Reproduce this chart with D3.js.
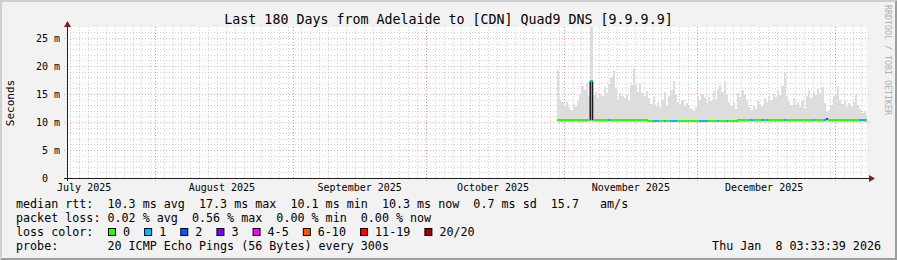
<!DOCTYPE html>
<html>
<head>
<meta charset="utf-8">
<script src="https://cdn.jsdelivr.net/npm/d3@7"></script>
<style>
  body { margin: 0; background: #f2f2f2; }
  text { font-family: "DejaVu Sans Mono", monospace; white-space: pre; }
</style>
</head>
<body>
<div id="chart"></div>
<script>
// ---- data ----
const title = "Last 180 Days from Adelaide to [CDN] Quad9 DNS [9.9.9.9]";
const rangeEnd = "2026-01-08T03:33:39";
const rangeDays = 180;
const dataStart = "2025-10-30T12:00:00";
const stepHours = 12;

const yTicks = [0, 5, 10, 15, 20, 25];
const yTickLabels = ["0  ", "5 m", "10 m", "15 m", "20 m", "25 m"];
const monthStarts = ["2025-07-01", "2025-08-01", "2025-09-01", "2025-10-01", "2025-11-01", "2025-12-01", "2026-01-01"];
const monthLabels = ["July 2025", "August 2025", "September 2025", "October 2025", "November 2025", "December 2025"];

// median rtt per 12h sample (ms)
const medianRtt = [
  10.3, 10.3, 10.3, 10.3, 10.3, 10.3, 10.3, 10.3, 10.3, 10.3,
  10.3, 10.3, 10.3, 10.3, 10.3, 17.3, 10.3, 10.3, 10.3, 10.3,
  10.3, 10.3, 10.3, 10.3, 10.3, 10.3, 10.3, 10.3, 10.3, 10.3,
  10.3, 10.3, 10.3, 10.3, 10.3, 10.3, 10.3, 10.3, 10.3, 10.3,
  10.3, 10.1, 10.1, 10.1, 10.1, 10.1, 10.1, 10.1, 10.1, 10.1,
  10.1, 10.1, 10.1, 10.1, 10.1, 10.1, 10.1, 10.1, 10.1, 10.1,
  10.1, 10.1, 10.1, 10.1, 10.1, 10.1, 10.1, 10.1, 10.1, 10.1,
  10.1, 10.1, 10.1, 10.1, 10.1, 10.1, 10.1, 10.1, 10.1, 10.1,
  10.1, 10.3, 10.3, 10.3, 10.3, 10.3, 10.3, 10.3, 10.3, 10.3,
  10.3, 10.3, 10.3, 10.3, 10.3, 10.3, 10.3, 10.3, 10.3, 10.3,
  10.3, 10.3, 10.3, 10.3, 10.3, 10.3, 10.3, 10.3, 10.3, 10.3,
  10.3, 10.3, 10.3, 10.3, 10.3, 10.3, 10.3, 10.3, 10.3, 10.3,
  10.4, 10.6, 10.3, 10.3, 10.3, 10.3, 10.3, 10.3, 10.3, 10.3,
  10.3, 10.3, 10.3, 10.3, 10.3, 10.3, 10.3, 10.3, 10.3, 10.3
];

// top of the smoke (slowest pings) per sample (ms)
const smokeTop = [
  19.3, 13.9, 13.5, 13.0, 13.6, 12.6, 12.2, 13.2, 12.8, 13.8,
  15.0, 16.4, 15.8, 16.9, 14.6, 27.0, 14.8, 15.4, 14.2, 15.0,
  14.6, 16.2, 15.2, 16.8, 18.0, 19.3, 16.0, 14.0, 15.2, 14.6,
  14.2, 14.8, 13.8, 16.6, 19.4, 16.8, 15.4, 17.0, 15.2, 14.4,
  15.6, 14.2, 13.2, 14.6, 12.8, 13.6, 12.6, 14.0, 15.4, 13.0,
  14.6, 15.8, 17.4, 15.0, 13.6, 13.2, 14.0, 12.8, 13.4, 13.0,
  12.4, 12.0, 12.6, 14.6, 14.0, 15.0, 14.2, 13.4, 14.4, 13.8,
  15.6, 14.0, 15.8, 16.6, 15.4, 17.4, 15.0, 13.6, 12.8, 13.4,
  12.4, 15.2, 14.4, 15.8, 14.8, 14.0, 12.6, 12.2, 13.0, 12.4,
  14.0, 13.2, 12.8, 14.2, 13.6, 14.6, 14.0, 15.0, 14.4, 15.6,
  14.8, 16.4, 18.8, 14.6, 13.8, 13.0, 14.2, 12.8, 13.6, 12.6,
  13.8, 12.4, 14.6, 15.8, 14.2, 15.4, 14.8, 16.0, 15.2, 16.2,
  13.4, 11.8, 12.2, 12.8, 14.6, 15.2, 16.4, 14.0, 13.2, 13.8,
  12.6, 13.4, 12.8, 13.6, 14.8, 13.0, 12.4, 11.6, 12.0, 11.2
];
const smokeBottom = 10.0;

// loss colour index per sample (0 = no loss)
const lossIdx = [
  0, 0, 0, 0, 0, 0, 0, 0, 0, 0,
  0, 0, 0, 0, 0, 1, 0, 0, 0, 0,
  0, 0, 0, 1, 0, 0, 0, 0, 0, 0,
  0, 0, 0, 0, 0, 0, 0, 0, 0, 0,
  0, 0, 0, 1, 1, 1, 0, 0, 1, 0,
  0, 1, 1, 1, 0, 0, 0, 0, 0, 0,
  0, 0, 0, 0, 1, 1, 1, 1, 0, 0,
  0, 0, 1, 0, 0, 0, 1, 0, 0, 0,
  0, 0, 0, 0, 0, 0, 0, 1, 0, 0,
  0, 0, 1, 0, 1, 0, 0, 0, 0, 0,
  0, 0, 1, 0, 0, 0, 0, 0, 0, 0,
  0, 0, 0, 0, 0, 1, 0, 0, 0, 0,
  1, 2, 0, 0, 0, 0, 0, 0, 0, 0,
  0, 0, 0, 0, 0, 0, 1, 1, 1, 0
];

const lossLabels = ["0", "1", "2", "3", "4-5", "6-10", "11-19", "20/20"];
const lossColors = ["#26ff00", "#00b8ff", "#0059ff", "#7e00ff", "#ff00ff", "#ff5500", "#ff0000", "#a10000"];

const legendMedian = "median rtt:  10.3 ms avg  17.3 ms max  10.1 ms min  10.3 ms now  0.7 ms sd  15.7   am/s";
const legendLoss = "packet loss: 0.02 % avg  0.56 % max  0.00 % min  0.00 % now";
const legendProbe = "probe:       20 ICMP Echo Pings (56 Bytes) every 300s";
const stamp = "Thu Jan  8 03:33:39 2026";
const watermark = "RRDTOOL / TOBI OETIKER";

// ---- drawing ----
const W = 897, H = 260;
const pLeft = 67, pRight = 867, pTop = 27, pBottom = 178;
const parse = d3.utcParse("%Y-%m-%dT%H:%M:%S");
const parseDay = d3.utcParse("%Y-%m-%d");
const tEnd = parse(rangeEnd);
const tStart = d3.utcDay.offset(tEnd, -rangeDays);

const x = d3.scaleUtc().domain([tStart, tEnd]).range([pLeft - 0.5, pRight - 0.5]);
const y = d3.scaleLinear().domain([0, 27]).range([pBottom, pBottom - 27 * 5.6]);

const t0 = parse(dataStart);
const samples = medianRtt.map((m, i) => ({
  t: d3.utcHour.offset(t0, i * stepHours),
  t1: d3.utcHour.offset(t0, (i + 1) * stepHours),
  median: m,
  top: smokeTop[i],
  loss: lossIdx[i]
}));

const svg = d3.select("#chart").append("svg")
  .attr("width", W).attr("height", H);

// background and 3d frame
svg.append("rect").attr("width", W).attr("height", H).attr("fill", "#f2f2f2");
svg.append("path")
  .attr("d", `M0,0H${W}L${W - 2},2H2V${H - 2}L0,${H}Z`)
  .attr("fill", "#cfcfcf");
svg.append("path")
  .attr("d", `M${W},0V${H}H0L2,${H - 2}H${W - 2}V2Z`)
  .attr("fill", "#9e9e9e");

// canvas
svg.append("rect")
  .attr("x", pLeft).attr("y", pTop)
  .attr("width", pRight - pLeft).attr("height", pBottom - pTop)
  .attr("fill", "#ffffff");

const grid = svg.append("g");
const minorCol = "rgba(143,143,143,0.4)", majorCol = "rgba(222,79,79,0.45)";

// minor grid
const minorY = d3.range(1, 27).filter(v => v % 5 !== 0);
grid.selectAll(".hminor").data(minorY).join("line")
  .attr("x1", pLeft).attr("x2", pRight)
  .attr("y1", d => Math.round(y(d)) + 0.5).attr("y2", d => Math.round(y(d)) + 0.5)
  .attr("stroke", minorCol)
  .attr("stroke-dasharray", "1,2");

const minorX = d3.utcDay.every(2).range(tStart, tEnd);
grid.selectAll(".vminor").data(minorX).join("line")
  .attr("x1", d => Math.round(x(d)) + 0.5).attr("x2", d => Math.round(x(d)) + 0.5)
  .attr("y1", pTop).attr("y2", pBottom)
  .attr("stroke", minorCol)
  .attr("stroke-dasharray", "1,2");

// major grid
grid.selectAll(".hmajor").data(yTicks.filter(v => v > 0)).join("line")
  .attr("x1", pLeft - 3).attr("x2", pRight + 2)
  .attr("y1", d => Math.round(y(d)) + 0.5).attr("y2", d => Math.round(y(d)) + 0.5)
  .attr("stroke", majorCol)
  .attr("stroke-dasharray", "1,2");

grid.selectAll(".vmajor").data(monthStarts.map(parseDay).filter(d => d > tStart)).join("line")
  .attr("x1", d => Math.round(x(d)) + 0.5).attr("x2", d => Math.round(x(d)) + 0.5)
  .attr("y1", pTop).attr("y2", pBottom + 3)
  .attr("stroke", majorCol)
  .attr("stroke-dasharray", "1,2");

// data
svg.append("clipPath").attr("id", "clip")
  .append("rect").attr("x", pLeft).attr("y", pTop)
  .attr("width", pRight - pLeft).attr("height", pBottom - pTop);
const plot = svg.append("g").attr("clip-path", "url(#clip)");

plot.selectAll(".smoke").data(samples).join("rect")
  .attr("x", d => x(d.t)).attr("width", d => x(d.t1) - x(d.t))
  .attr("y", d => y(d.top)).attr("height", d => y(smokeBottom) - y(d.top))
  .attr("fill", "#dddddd")
  .attr("shape-rendering", "crispEdges");

// vertical steps of the median line
const steps = samples.slice(1).map((d, i) => ({ t: d.t, a: samples[i].median, b: d.median }))
  .filter(s => s.a !== s.b);
plot.selectAll(".step").data(steps).join("line")
  .attr("x1", d => x(d.t)).attr("x2", d => x(d.t))
  .attr("y1", d => y(d.a)).attr("y2", d => y(d.b))
  .attr("stroke", "#1e1e1e").attr("stroke-width", 1.6);

plot.selectAll(".median").data(samples).join("rect")
  .attr("x", d => x(d.t)).attr("width", d => x(d.t1) - x(d.t))
  .attr("y", d => y(d.median) - 1).attr("height", 2)
  .attr("fill", d => lossColors[d.loss])
  .attr("shape-rendering", "crispEdges");

// axes
const yAxis = d3.axisLeft(y).tickValues(yTicks).tickSize(0).tickPadding(7)
  .tickFormat((d, i) => yTickLabels[i]);
const gy = svg.append("g").attr("transform", `translate(${pLeft},0)`).call(yAxis);
gy.select(".domain").remove();
gy.selectAll("text").attr("font-size", 10).attr("fill", "#000")
  .attr("font-family", "DejaVu Sans Mono, monospace")
  .attr("xml:space", "preserve");

const labelDates = monthStarts.slice(0, -1).map(s => d3.utcDay.offset(parseDay(s), 15));
const xAxis = d3.axisBottom(x).tickValues(labelDates).tickSize(0).tickPadding(6)
  .tickFormat((d, i) => monthLabels[i]);
const gx = svg.append("g").attr("transform", `translate(0,${pBottom})`).call(xAxis);
gx.select(".domain").remove();
gx.selectAll("text").attr("font-size", 10).attr("fill", "#000")
  .attr("font-family", "DejaVu Sans Mono, monospace");

// axis lines and arrows
svg.append("line").attr("x1", pLeft - 3).attr("x2", pRight + 3)
  .attr("y1", pBottom + 0.5).attr("y2", pBottom + 0.5)
  .attr("stroke", "#1f1f1f");
svg.append("line").attr("x1", pLeft + 0.5).attr("x2", pLeft + 0.5)
  .attr("y1", pBottom + 3).attr("y2", pTop - 2)
  .attr("stroke", "#1f1f1f");
svg.append("path")
  .attr("d", `M${pRight + 2},${pBottom - 3}L${pRight + 8},${pBottom + 0.5}L${pRight + 2},${pBottom + 4}Z`)
  .attr("fill", "#801f1f");
svg.append("path")
  .attr("d", `M${pLeft - 3},${pTop}L${pLeft + 0.5},${pTop - 6}L${pLeft + 4},${pTop}Z`)
  .attr("fill", "#801f1f");

// title and labels
svg.append("text").attr("x", W / 2).attr("y", 24)
  .attr("text-anchor", "middle").attr("font-size", 13.3)
  .text(title);

svg.append("text")
  .attr("transform", `translate(14,${(pTop + pBottom) / 2 + 0.5}) rotate(-90)`)
  .attr("text-anchor", "middle").attr("font-size", 11)
  .text("Seconds");

svg.append("text")
  .attr("transform", `translate(884.5,5) rotate(90)`)
  .attr("font-size", 8.3).attr("fill", "#b0b0b0")
  .text(watermark);

// legend
const lx = 16, fs = 11.7, cw = fs * 0.602;
const legend = svg.append("g").attr("font-size", fs);
legend.append("text").attr("x", lx).attr("y", 208).attr("xml:space", "preserve").text(legendMedian);
legend.append("text").attr("x", lx).attr("y", 222).attr("xml:space", "preserve").text(legendLoss);
legend.append("text").attr("x", lx).attr("y", 236).attr("xml:space", "preserve").text("loss color:");

let cx = 108.5;
lossLabels.forEach((lab, i) => {
  legend.append("rect").attr("x", cx).attr("y", 228.5).attr("width", 7).attr("height", 7)
    .attr("fill", lossColors[i]).attr("stroke", "#000");
  legend.append("text").attr("x", cx + 14.5).attr("y", 236).text(lab);
  cx += 14.5 + lab.length * cw + 14.6;
});

legend.append("text").attr("x", lx).attr("y", 250).attr("xml:space", "preserve").text(legendProbe);
legend.append("text").attr("x", 881).attr("y", 250).attr("text-anchor", "end")
  .attr("xml:space", "preserve").text(stamp);
</script>
</body>
</html>
